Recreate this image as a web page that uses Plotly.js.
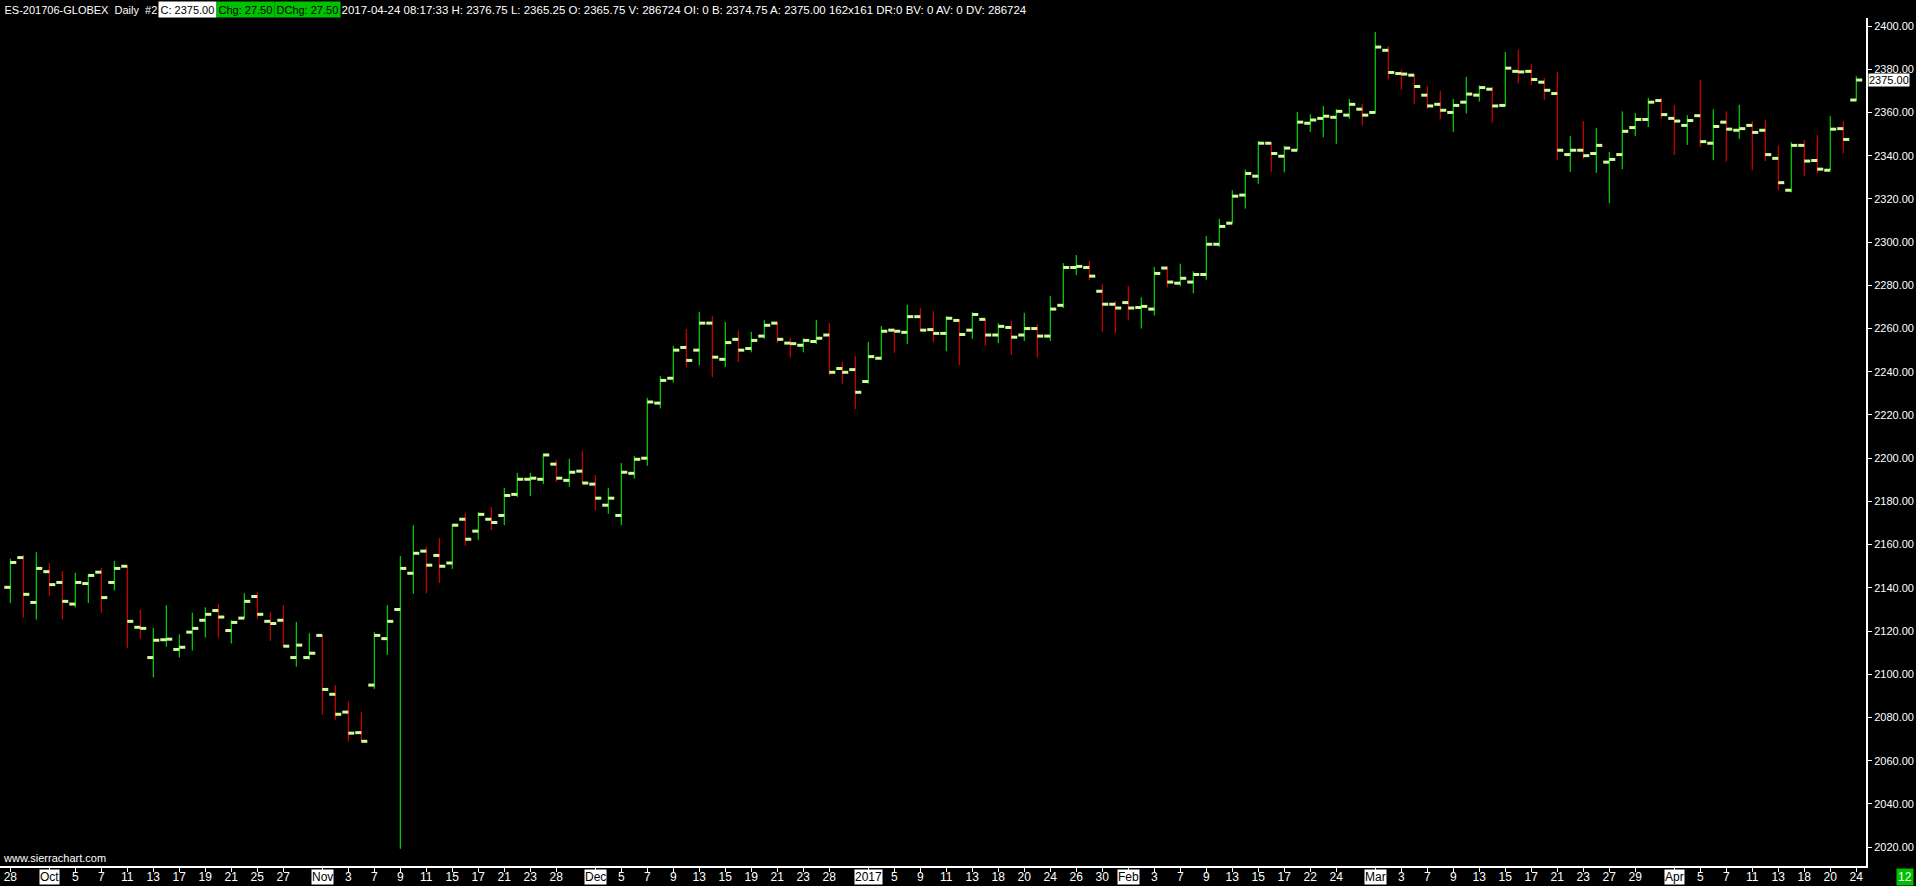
<!DOCTYPE html>
<html><head><meta charset="utf-8">
<script src="https://cdn.plot.ly/plotly-3.0.1.min.js"></script>
<style>html,body{margin:0;padding:0;background:#000;overflow:hidden}#chart{width:1916px;height:886px}</style>
</head><body><div id="chart"></div>
<script>
const dates = [
'2016-09-28','2016-09-29','2016-09-30',
'2016-10-03','2016-10-04','2016-10-05','2016-10-06','2016-10-07','2016-10-10','2016-10-11','2016-10-12','2016-10-13','2016-10-14',
'2016-10-17','2016-10-18','2016-10-19','2016-10-20','2016-10-21','2016-10-24','2016-10-25','2016-10-26','2016-10-27','2016-10-28','2016-10-31',
'2016-11-01','2016-11-02','2016-11-03','2016-11-04','2016-11-07','2016-11-08','2016-11-09','2016-11-10','2016-11-11','2016-11-14','2016-11-15',
'2016-11-16','2016-11-17','2016-11-18','2016-11-21','2016-11-22','2016-11-23','2016-11-25','2016-11-28','2016-11-29','2016-11-30',
'2016-12-01','2016-12-02','2016-12-05','2016-12-06','2016-12-07','2016-12-08','2016-12-09','2016-12-12','2016-12-13','2016-12-14','2016-12-15',
'2016-12-16','2016-12-19','2016-12-20','2016-12-21','2016-12-22','2016-12-23','2016-12-27','2016-12-28','2016-12-29','2016-12-30',
'2017-01-03','2017-01-04','2017-01-05','2017-01-06','2017-01-09','2017-01-10','2017-01-11','2017-01-12','2017-01-13','2017-01-17',
'2017-01-18','2017-01-19','2017-01-20','2017-01-23','2017-01-24','2017-01-25','2017-01-26','2017-01-27','2017-01-30','2017-01-31',
'2017-02-01','2017-02-02','2017-02-03','2017-02-06','2017-02-07','2017-02-08','2017-02-09','2017-02-10','2017-02-13','2017-02-14',
'2017-02-15','2017-02-16','2017-02-17','2017-02-21','2017-02-22','2017-02-23','2017-02-24','2017-02-27','2017-02-28',
'2017-03-01','2017-03-02','2017-03-03','2017-03-06','2017-03-07','2017-03-08','2017-03-09','2017-03-10','2017-03-13','2017-03-14',
'2017-03-15','2017-03-16','2017-03-17','2017-03-20','2017-03-21','2017-03-22','2017-03-23','2017-03-24','2017-03-27','2017-03-28',
'2017-03-29','2017-03-30','2017-03-31',
'2017-04-03','2017-04-04','2017-04-05','2017-04-06','2017-04-07','2017-04-10','2017-04-11','2017-04-12','2017-04-13','2017-04-17',
'2017-04-18','2017-04-19','2017-04-20','2017-04-21','2017-04-24'];

const open = [2140.25,2154,2133.25,2147.5,2142.5,2132.5,2142,2147.25,2142.5,2150,
2121.75,2107.75,2116,2111.5,2119.5,2125,2129.5,2120.25,2126,2136,
2124.5,2125,2107.75,2107.75,2118,2090.75,2082.5,2073,2095,2116.5,
2130,2146.75,2157,2155,2151.5,2171.75,2166.25,2171.75,2173.5,2183.25,
2190.25,2190.25,2197.25,2189.75,2194,2188,2178.25,2173.5,2193,2200,
2225.5,2237,2251.25,2250,2262.5,2245.75,2255,2250.75,2256.5,2262.5,
2253.25,2252.25,2254,2257,2241.5,2241,2235.5,2246.25,2259.25,2258.25,
2265.5,2259.5,2257.75,2263.75,2259.25,2264.25,2257,2260.5,2257,2260,
2256.5,2270.75,2288.25,2288.25,2277.25,2271.25,2272,2269.75,2269,2288,
2281,2281.5,2285,2299,2308.75,2321.75,2330.5,2345.75,2339.75,2342.5,
2355,2357.25,2357.75,2358.75,2361.5,2360,2388.75,2378,2377.25,2368,
2363.75,2360,2364.75,2368,2370.75,2363.25,2379,2379,2374,2368.75,
2340.5,2342.5,2341,2337,2340.5,2353,2356.75,2365.5,2357.25,2354,
2358.5,2345.75,2355.5,2351.75,2354,2351.75,2338.75,2324,2344.75,2337.75,
2333.25,2352.5,2365.75];

const high = [2153.5,2155.25,2156.5,2151.5,2147.75,2147,2146.25,2149.25,2152.5,2150,
2129.75,2121.5,2132,2118.5,2128.5,2131,2132.5,2125,2137.5,2138,
2128.75,2132,2124.25,2119,2118,2095,2087.5,2082.5,2119.5,2132,
2154.75,2169,2159,2163,2169.5,2174.75,2175,2177.5,2186.25,2193.25,
2193.25,2202,2199.25,2199.75,2203.5,2192.25,2186.25,2197.75,2201,2228,
2238,2252,2259.75,2267.75,2265.75,2263,2259,2258.5,2264,2263,
2255.75,2255.5,2264,2262.5,2244.5,2247.25,2253.75,2261.25,2260,2271,
2269.5,2268,2265.75,2264.25,2267.5,2264.25,2262.5,2263.5,2267.25,2262,
2275,2290.25,2294,2291.25,2280.5,2272.75,2279.75,2274.5,2288.5,2288.75,
2290,2286.5,2302.75,2310.75,2324,2333.5,2346.75,2346.25,2344.5,2360.25,
2359.25,2363,2361.5,2366.25,2364,2397.25,2390.75,2379.75,2377.25,2372.25,
2370,2366.25,2376.5,2372.5,2371.75,2388,2389,2382.5,2376,2378.75,
2349,2356,2352.75,2341.75,2360.5,2359.75,2366.75,2366.75,2363.5,2358.75,
2375,2361.5,2360.5,2363.5,2356,2356.5,2344.75,2346.25,2347.25,2349.5,
2358.25,2356,2376.75];

const low = [2133,2126.25,2125.25,2136.25,2125.5,2131,2133,2128.5,2138.75,2112.25,
2116.5,2098.5,2112.75,2107.75,2111,2117,2117,2114.25,2126,2125.75,
2115.5,2113,2103.5,2106.75,2081.25,2079,2069,2068.75,2093.25,2109,
2019.25,2137.25,2137.5,2142.25,2148.75,2159.5,2162.25,2166.75,2169,2182,
2182.5,2188,2189,2186.75,2188.5,2176,2174.25,2169,2190.5,2196.5,
2223,2235,2242,2243,2237.5,2242.25,2244.5,2249,2255.25,2253.25,
2246.5,2249,2252.75,2238.5,2234.5,2222.75,2234.5,2245.5,2248.75,2252.75,
2258.75,2253.75,2249.5,2243,2255.25,2252,2253.25,2247.75,2254.25,2246.5,
2254.25,2269.5,2284.75,2282.5,2258.5,2257.75,2263.75,2260,2266,2279,
2279.5,2276.25,2282.5,2297.75,2308.75,2315.5,2327,2332.5,2332.25,2342.5,
2351,2348.5,2345.5,2357,2354,2359.5,2375.25,2370.5,2364,2361.75,
2356.75,2351,2359.5,2365,2355.25,2362.75,2373.5,2372.75,2365.75,2338,
2332.5,2338.5,2332,2318,2333.75,2349,2353.25,2357,2340.25,2345,
2344,2338,2337.25,2347.75,2333.25,2337.5,2324,2323,2330.5,2331.75,
2333.25,2341,2365.25];

const close = [2151.75,2137,2149,2141.5,2133.75,2142.5,2145.75,2135.5,2149,2124.5,
2121.25,2115.75,2116.25,2112.5,2121.25,2127.75,2126.5,2124,2133.75,2127.75,
2123.5,2113,2113.5,2109.75,2093,2081.5,2072.75,2069,2118,2124.5,
2149,2156,2150.5,2150,2169,2162.5,2174,2170.25,2182.75,2190.25,
2190.75,2201.5,2190.75,2193.5,2188.5,2181.5,2181.5,2193.5,2199.5,2226,
2236,2250,2245.25,2262.5,2246.75,2253.5,2250,2254.5,2261.5,2255,
2253,2254.5,2255.5,2239.75,2239.75,2230.5,2247,2258.75,2258.75,2265.5,
2259.25,2257.75,2264.75,2257.25,2266.5,2257,2261,2256,2260,2256.5,
2269,2288.25,2288.75,2284.25,2271.25,2269.5,2269.5,2270.25,2285.5,2281.5,
2283.25,2285,2299,2307.25,2321.25,2331.75,2345.75,2341,2343.5,2355.5,
2356.5,2358.25,2360.5,2363.75,2358.75,2390.25,2378.5,2377.75,2372,2363,
2361,2363.25,2368.5,2371.5,2363,2380.5,2378.75,2375.25,2370.25,2342.5,
2342.5,2340,2344.75,2338.25,2351.25,2356.75,2364.75,2359,2356,2356.25,
2346.5,2353.5,2352.25,2352.5,2350.75,2340.5,2327.5,2344.75,2337.5,2333.75,
2352.25,2347.5,2375];

const dayTickDates = ['2016-09-28',
'2016-10-05','2016-10-07','2016-10-11','2016-10-13','2016-10-17','2016-10-19','2016-10-21','2016-10-25','2016-10-27',
'2016-11-03','2016-11-07','2016-11-09','2016-11-11','2016-11-15','2016-11-17','2016-11-21','2016-11-23','2016-11-28',
'2016-12-05','2016-12-07','2016-12-09','2016-12-13','2016-12-15','2016-12-19','2016-12-21','2016-12-23','2016-12-28',
'2017-01-05','2017-01-09','2017-01-11','2017-01-13','2017-01-18','2017-01-20','2017-01-24','2017-01-26','2017-01-30',
'2017-02-03','2017-02-07','2017-02-09','2017-02-13','2017-02-15','2017-02-17','2017-02-22','2017-02-24',
'2017-03-03','2017-03-07','2017-03-09','2017-03-13','2017-03-15','2017-03-17','2017-03-21','2017-03-23','2017-03-27','2017-03-29',
'2017-04-05','2017-04-07','2017-04-11','2017-04-13','2017-04-18','2017-04-20','2017-04-24'];
const monthTickDates = ['2016-10-03','2016-11-01','2016-12-01','2017-01-03','2017-02-01','2017-03-01','2017-04-03'];
const monthTickText = ['Oct','Nov','Dec','2017','Feb','Mar','Apr'];

const symbolName = 'ES-201706-GLOBEX';
const lastTime = '2017-04-24 08:17:33';
const volume = 286724;

const idx = dates.map((d, i) => i);
const fam = '"Liberation Sans", Arial, sans-serif';
const TICK = '#ccff99';

const stems = {
  type: 'ohlc', x: idx, open: open, high: high, low: low, close: close,
  tickwidth: 0,
  increasing: {line: {color: '#00ff00', width: 1}},
  decreasing: {line: {color: '#ff0000', width: 1}},
  hoverinfo: 'skip'
};
const tickOff = 0.23;
const openTicks = {
  type: 'scatter', mode: 'markers', x: idx.map(i => i - tickOff), y: open,
  marker: {symbol: 'line-ew', size: 4.3, color: TICK, line: {color: TICK, width: 3}},
  hoverinfo: 'skip'
};
const closeTicks = {
  type: 'scatter', mode: 'markers', x: idx.map(i => i + tickOff), y: close,
  marker: {symbol: 'line-ew', size: 4.3, color: TICK, line: {color: TICK, width: 3}},
  hoverinfo: 'skip'
};

const n = close.length;
const last = close[n - 1];
const chg = (last - close[n - 2]).toFixed(2);
const PW = 1866;
const px = p => p / PW;

const annotations = [];
function hdr(x, text, bg, color, size) {
  annotations.push({xref: 'paper', yref: 'paper', x: px(x), y: 1, xanchor: 'left', yanchor: 'bottom',
    yshift: 0, text: text, showarrow: false, bgcolor: bg || 'rgba(0,0,0,0)', borderpad: 1.5,
    font: {family: fam, size: size || 11, color: color || '#ffffff'}});
}
hdr(2, symbolName + '&nbsp; Daily&nbsp; #2');
hdr(158, 'C: ' + last.toFixed(2), '#ffffff', '#000000');
hdr(216, 'Chg: ' + chg, '#00c000', '#000000');
hdr(274, 'DChg: ' + chg, '#00c000', '#000000');
hdr(339, lastTime + ' H: ' + high[n-1].toFixed(2) + ' L: ' + low[n-1].toFixed(2) + ' O: ' + open[n-1].toFixed(2) +
  ' V: ' + volume + ' OI: 0 B: ' + (last - 0.25).toFixed(2) + ' A: ' + last.toFixed(2) + ' 162x161 DR:0 BV: 0 AV: 0 DV: ' + volume,
  null, '#ffffff', 11.5);

monthTickDates.forEach((d, k) => {
  annotations.push({xref: 'x', yref: 'paper', x: dates.indexOf(d), y: 0, xanchor: 'center', yanchor: 'top',
    yshift: -3, text: monthTickText[k], showarrow: false, bgcolor: '#ffffff', borderpad: 0,
    font: {family: fam, size: 12, color: '#000000'}});
});
annotations.push({xref: 'paper', yref: 'y', x: 1, y: last, xanchor: 'left', yanchor: 'middle', xshift: 2,
  text: last.toFixed(2), showarrow: false, bgcolor: '#ffffff', borderpad: 0,
  font: {family: fam, size: 11, color: '#000000'}});
annotations.push({xref: 'paper', yref: 'paper', x: px(1904.5), y: 0, xanchor: 'center', yanchor: 'top', yshift: -2,
  text: '12', showarrow: false, bgcolor: '#00c000', borderpad: 1,
  font: {family: fam, size: 12, color: '#ffffff'}});
annotations.push({xref: 'paper', yref: 'paper', x: 0, y: 0, xanchor: 'left', yanchor: 'bottom', xshift: 1, yshift: 0,
  text: 'www.sierrachart.com', showarrow: false,
  font: {family: fam, size: 11, color: '#ffffff'}});

const tickvals = dayTickDates.map(d => dates.indexOf(d)).concat(monthTickDates.map(d => dates.indexOf(d)));
const ticktext = dayTickDates.map(d => String(parseInt(d.slice(8), 10))).concat(monthTickDates.map(() => ''));

const layout = {
  width: 1916, height: 886,
  paper_bgcolor: '#000000', plot_bgcolor: '#000000',
  margin: {l: 0, r: 50, t: 18, b: 20, pad: 0},
  showlegend: false,
  xaxis: {
    type: 'linear', range: [-0.792, 142.75], showgrid: false, zeroline: false,
    showline: true, linecolor: '#ffffff', linewidth: 2,
    ticks: 'outside', ticklen: 4, tickcolor: '#ffffff', tickwidth: 1,
    ticklabelstandoff: -5,
    tickmode: 'array', tickvals: tickvals, ticktext: ticktext,
    tickfont: {family: fam, size: 12, color: '#ffffff'},
    rangeslider: {visible: false}, fixedrange: true
  },
  yaxis: {
    side: 'right', range: [2011.29, 2403.70], showgrid: false, zeroline: false,
    showline: true, linecolor: '#ffffff', linewidth: 2,
    ticks: 'outside', ticklen: 4, tickcolor: '#ffffff', tickwidth: 1,
    tick0: 2000, dtick: 20, tickformat: '.2f',
    tickfont: {family: fam, size: 11, color: '#ffffff'}, fixedrange: true
  },
  annotations: annotations
};

Plotly.newPlot('chart', [stems, openTicks, closeTicks], layout, {displayModeBar: false, staticPlot: true});
</script>
</body></html>
